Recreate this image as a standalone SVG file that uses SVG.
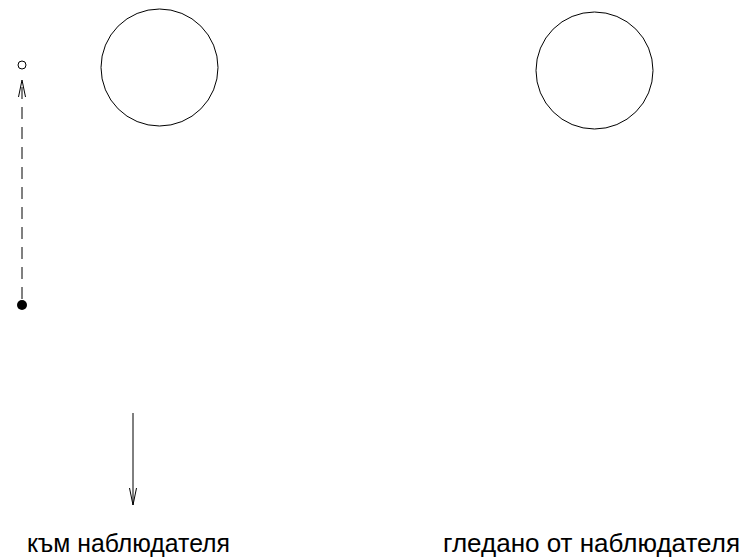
<svg xmlns="http://www.w3.org/2000/svg" width="745" height="560" viewBox="0 0 745 560">
<style>
.ln{stroke:#000;stroke-width:1;fill:none}
.t{font-family:"Liberation Sans",Arial,sans-serif;font-size:25px;fill:#000}
</style>
<defs>
<marker id="ah" markerWidth="18" markerHeight="10" refX="17" refY="5" orient="auto" markerUnits="userSpaceOnUse" viewBox="0 0 18 10">
<path d="M0,1.5 L17,5 L0,8.5" class="ln"/>
</marker>
</defs>
<rect width="745" height="560" fill="#fff"/>
<g id="circle-left"><circle cx="159.5" cy="67.5" r="58.5" class="ln"/></g>
<g id="circle-right"><circle cx="594.5" cy="70.5" r="58.5" class="ln"/></g>
<g id="point-open"><circle cx="22" cy="65" r="4" class="ln"/></g>
<g id="point-filled"><circle cx="22" cy="305" r="5" fill="#000"/></g>
<g id="connectors">
<line x1="22" y1="299" x2="22" y2="80" class="ln" stroke-dasharray="12,8" marker-end="url(#ah)"/>
<line x1="133" y1="413" x2="133" y2="505" class="ln" marker-end="url(#ah)"/>
</g>
<g id="labels">
<text class="t" x="27" y="552" textLength="203" lengthAdjust="spacingAndGlyphs">към наблюдателя</text>
<text class="t" x="443" y="552" textLength="297" lengthAdjust="spacingAndGlyphs">гледано от наблюдателя</text>
</g>
</svg>
